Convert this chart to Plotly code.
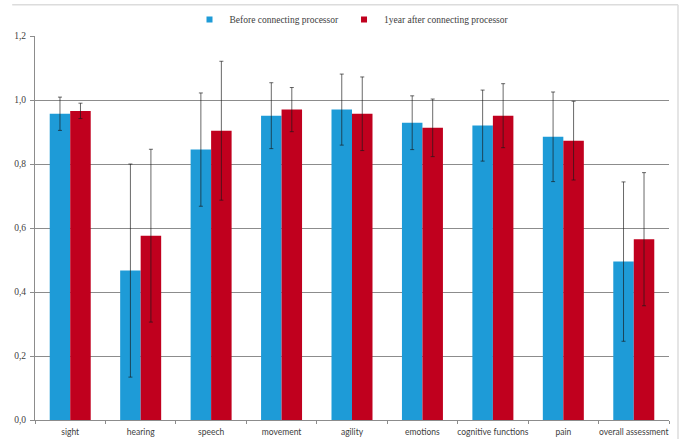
import plotly.graph_objects as go

# Domains assessed
categories = ["sight", "hearing", "speech", "movement", "agility",
              "emotions", "cognitive functions", "pain", "overall assessment"]

# Mean scores and standard deviations
before = [0.957, 0.467, 0.845, 0.951, 0.970, 0.929, 0.920, 0.885, 0.495]
before_sd = [0.052, 0.333, 0.177, 0.103, 0.111, 0.084, 0.111, 0.140, 0.249]
after = [0.966, 0.576, 0.904, 0.970, 0.957, 0.913, 0.951, 0.873, 0.565]
after_sd = [0.024, 0.270, 0.217, 0.069, 0.115, 0.090, 0.100, 0.123, 0.208]

series_names = ["Before connecting processor", "1year after connecting processor"]
y_ticks = [0.0, 0.2, 0.4, 0.6, 0.8, 1.0, 1.2]

BLUE = "#1E9BD7"
RED = "#C0001E"
ERR = "rgba(25,25,25,0.65)"
GRID = "#8C8C8C"
TEXT = "#404040"

fig = go.Figure()
for vals, sd, color in [(before, before_sd, BLUE), (after, after_sd, RED)]:
    fig.add_trace(go.Bar(
        x=categories, y=vals, marker=dict(color=color, line=dict(width=0)),
        error_y=dict(type="data", array=sd, visible=True,
                     color=ERR, thickness=1, width=2),
        showlegend=False,
    ))

# Small square legend keys
for name, color in zip(series_names, [BLUE, RED]):
    fig.add_trace(go.Scatter(
        x=[None], y=[None], mode="markers", name=name,
        marker=dict(symbol="square", size=6, color=color),
    ))

fig.update_layout(
    width=682, height=439,
    margin=dict(l=35, r=13, t=36, b=19, autoexpand=False),
    paper_bgcolor="white", plot_bgcolor="white",
    separators=", ",
    barmode="group", bargap=0.418, bargroupgap=0,
    legend=dict(orientation="h", x=0.5, xanchor="center", y=1.043, yanchor="middle",
                font=dict(family="Liberation Serif", size=9.5, color=TEXT),
                itemsizing="trace", bgcolor="rgba(0,0,0,0)"),
    xaxis=dict(
        type="category", tickson="boundaries", ticks="outside", ticklen=3,
        tickcolor=GRID, showline=True, linecolor=GRID, linewidth=1,
        showgrid=False, automargin=False, tickangle=0, ticklabelstandoff=4,
        tickfont=dict(family="Lato", size=8.5, color=TEXT),
    ),
    yaxis=dict(
        range=[0, 1.2], tickvals=y_ticks, tickformat=".1f",
        ticks="outside", ticklen=4, tickcolor=GRID,
        showline=True, linecolor=GRID, linewidth=1,
        showgrid=True, gridcolor=GRID, gridwidth=1, zeroline=False,
        automargin=False, ticklabelstandoff=2,
        tickfont=dict(family="Liberation Serif", size=9.5, color=TEXT),
    ),
    shapes=[
        dict(type="line", xref="paper", yref="paper", x0=-0.036, x1=1.0142,
             y0=1.0815, y1=1.0815, line=dict(color="#DCDCDC", width=1.5)),
        dict(type="line", xref="paper", yref="paper", x0=1.0142, x1=1.0142,
             y0=1.0815, y1=-0.06, line=dict(color="#DCDCDC", width=1.5)),
    ],
)

fig.write_html("out.html")
